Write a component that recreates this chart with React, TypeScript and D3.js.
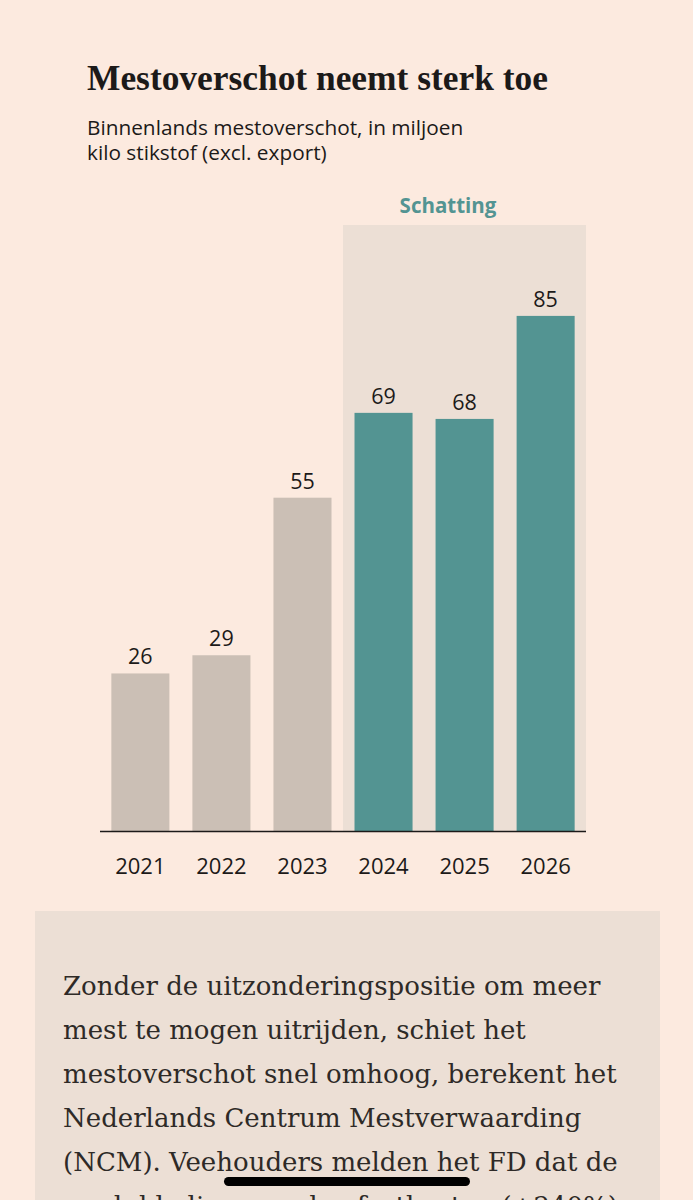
import * as d3 from "d3";

const years = ["2021", "2022", "2023", "2024", "2025", "2026"];
const surplus = [26, 29, 55, 69, 68, 85];
const estimateYears = ["2024", "2025", "2026"];

const title = "Mestoverschot neemt sterk toe";
const subtitle = ["Binnenlands mestoverschot, in miljoen", "kilo stikstof (excl. export)"];
const estimateLabel = "Schatting";
const bodyLines = [
  "Zonder de uitzonderingspositie om meer",
  "mest te mogen uitrijden, schiet het",
  "mestoverschot snel omhoog, berekent het",
  "Nederlands Centrum Mestverwaarding",
  "(NCM). Veehouders melden het FD dat de",
  "verdubbeling van de afzetkosten (+240%)",
];

const W = 693;
const H = 1200;
const bg = "#fceadf";
const shade = "#ecdfd5";
const grey = "#cbbfb5";
const teal = "#539492";
const ink = "#1c1a19";
const sans = "'Open Sans', Lato, sans-serif";
const serif = "'Liberation Serif', 'DejaVu Serif', serif";
const bodySerif = "'DejaVu Serif', serif";

export default function App() {
  const x = d3.scaleBand<string>().domain(years).range([100, 586]).paddingInner(0.284).paddingOuter(0.14);
  const y = d3.scaleLinear().domain([0, 100]).range([831, 225]);
  const gap = x.step() - x.bandwidth();
  const estStart = (x(estimateYears[0]) ?? 0) - gap / 2;
  const estEnd = 586;

  return (
    <svg
      width={W}
      height={H}
      style={{ position: "absolute", left: 0, top: 0, display: "block" }}
    >
      <rect x={0} y={0} width={W} height={H} fill={bg} />
      <text x={87} y={90} fontFamily={serif} fontWeight="bold" fontSize={35.4} fill={ink}>
        {title}
      </text>
      {subtitle.map((s, i) => (
        <text key={s} x={87} y={134.5 + i * 25} fontFamily={sans} fontSize={20.8} fill={ink}>
          {s}
        </text>
      ))}

      <rect x={estStart} y={y(100)} width={estEnd - estStart} height={y(0) - y(100)} fill={shade} />
      <text
        x={estStart + 105}
        y={213}
        textAnchor="middle"
        fontFamily={sans}
        fontWeight="bold"
        fontSize={20.5}
        fill={teal}
      >
        {estimateLabel}
      </text>

      {years.map((yr, i) => {
        const est = estimateYears.includes(yr);
        const bx = x(yr) ?? 0;
        return (
          <g key={yr}>
            <rect
              x={bx}
              y={y(surplus[i])}
              width={x.bandwidth()}
              height={y(0) - y(surplus[i])}
              fill={est ? teal : grey}
            />
            <text
              x={bx + x.bandwidth() / 2}
              y={y(surplus[i]) - 9}
              textAnchor="middle"
              fontFamily={sans}
              fontSize={21.5}
              fill={ink}
            >
              {surplus[i]}
            </text>
            <text
              x={bx + x.bandwidth() / 2}
              y={874}
              textAnchor="middle"
              fontFamily={sans}
              fontSize={22}
              fill={ink}
            >
              {yr}
            </text>
          </g>
        );
      })}
      <line x1={100} x2={586} y1={y(0) + 0.5} y2={y(0) + 0.5} stroke={ink} strokeWidth={1.5} />

      <rect x={35} y={911} width={625} height={H - 911} fill={shade} />
      {bodyLines.map((l, i) => (
        <text key={i} x={63} y={995 + i * 44} fontFamily={bodySerif} fontSize={26} fill="#2e2a27">
          {l}
        </text>
      ))}
      <rect x={224} y={1177} width={246} height={9} rx={4.5} fill="#000" />
    </svg>
  );
}
